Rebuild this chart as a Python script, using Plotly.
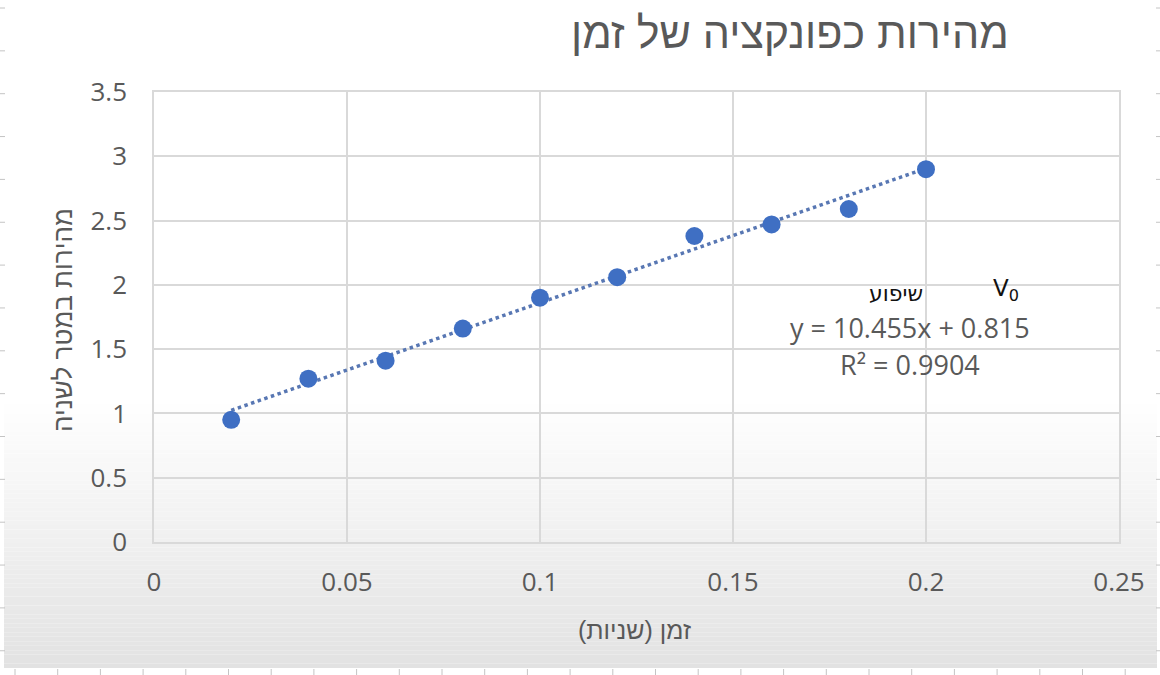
import plotly.graph_objects as go

# Measured time (s) and speed (m/s)
time_s = [0.02, 0.04, 0.06, 0.08, 0.10, 0.12, 0.14, 0.16, 0.18, 0.20]
speed = [0.95, 1.27, 1.41, 1.66, 1.90, 2.06, 2.38, 2.47, 2.59, 2.90]

# Linear trendline parameters
slope = 10.455
intercept = 0.815
r_squared = 0.9904

title_text = "מהירות כפונקציה של זמן"
x_title = "זמן (שניות)\u200f"
y_title = "מהירות במטר לשניה"
slope_note = "שיפוע"
v0_note = "V<sub>0</sub>"

W, H = 1160, 675
L, R, T, B = 154, 41, 92, 133
PW, PH = W - L - R, H - T - B


def px_x(px):
    return (px - L) / PW


def px_y(py):
    return (H - B - py) / PH


GRAY_TXT = "#595959"
GRID = "#d9d9d9"

trend_x = [min(time_s), max(time_s)]
trend_y = [slope * x + intercept for x in trend_x]

fig = go.Figure()
fig.add_trace(go.Scatter(
    x=trend_x, y=trend_y, mode="lines",
    line=dict(color="#5877b3", width=3.5, dash="dot"),
    hoverinfo="skip", showlegend=False,
))
fig.add_trace(go.Scatter(
    x=time_s, y=speed, mode="markers",
    marker=dict(color="#3f6fc3", size=18, line=dict(width=0)),
    showlegend=False,
))

shapes = []
# soft grey fade toward the bottom of the chart
top_fade, bottom_fade = 400, 668
n = 60
for i in range(n):
    y0 = top_fade + (bottom_fade - top_fade) * i / n
    y1 = top_fade + (bottom_fade - top_fade) * (i + 1) / n
    t = (i + 0.5) / n
    g = round(255 - 29 * t)
    shapes.append(dict(
        type="rect", xref="paper", yref="paper", layer="below",
        x0=px_x(4), x1=px_x(1157), y0=px_y(y1), y1=px_y(y0),
        fillcolor=f"rgb({g},{g},{g})", line=dict(width=0),
    ))

# notebook-page ruler ticks around the edges
tick_col = "#c4c4c4"
for k in range(16):
    yy = 8 + 42.85 * k
    if yy > 668:
        break
    shapes.append(dict(type="line", xref="paper", yref="paper",
                       x0=px_x(0), x1=px_x(5), y0=px_y(yy), y1=px_y(yy),
                       line=dict(color=tick_col, width=1)))
    shapes.append(dict(type="line", xref="paper", yref="paper",
                       x0=px_x(1156), x1=px_x(1160), y0=px_y(yy), y1=px_y(yy),
                       line=dict(color=tick_col, width=1)))
for k in range(28):
    xx = 15 + 42.7 * k
    if xx > 1158:
        break
    shapes.append(dict(type="line", xref="paper", yref="paper",
                       x0=px_x(xx), x1=px_x(xx), y0=px_y(669), y1=px_y(675),
                       line=dict(color=tick_col, width=1)))


def note(text, cx, cy, family, size, color, angle=0):
    return dict(text=text, x=px_x(cx), y=px_y(cy), xref="paper", yref="paper",
                xanchor="center", yanchor="middle", textangle=angle,
                showarrow=False, font=dict(family=family, size=size, color=color))


annotations = [
    note(title_text, 790, 33, "Liberation Sans", 43, GRAY_TXT),
    note(x_title, 634, 630, "Liberation Sans", 25, GRAY_TXT),
    note(y_title, 63, 320, "Liberation Sans", 26, GRAY_TXT, angle=-90),
    note(f"y = {slope}x + {intercept}", 910, 327, "Open Sans", 27, GRAY_TXT),
    note(f"R² = {r_squared}", 910, 364, "Open Sans", 27, GRAY_TXT),
    note(slope_note, 896, 293, "DejaVu Sans", 22, "#111111"),
    note(v0_note, 1006, 290, "DejaVu Sans", 23, "#111111"),
]

axis_font = dict(family="Open Sans", size=26, color=GRAY_TXT)
fig.update_layout(
    width=W, height=H,
    margin=dict(l=L, r=R, t=T, b=B),
    paper_bgcolor="white",
    plot_bgcolor="rgba(0,0,0,0)",
    shapes=shapes,
    annotations=annotations,
    xaxis=dict(range=[0, 0.25], dtick=0.05, tick0=0, showgrid=True, gridcolor=GRID,
               gridwidth=1.5, zeroline=False, showline=True, mirror=True,
               linecolor=GRID, linewidth=1.5, ticks="", tickfont=axis_font,
               ticklabelstandoff=16),
    yaxis=dict(range=[0, 3.5], dtick=0.5, tick0=0, showgrid=True, gridcolor=GRID,
               gridwidth=1.5, zeroline=False, showline=True, mirror=True,
               linecolor=GRID, linewidth=1.5, ticks="", tickfont=axis_font,
               ticklabelstandoff=20),
)

fig.write_html("out.html")
